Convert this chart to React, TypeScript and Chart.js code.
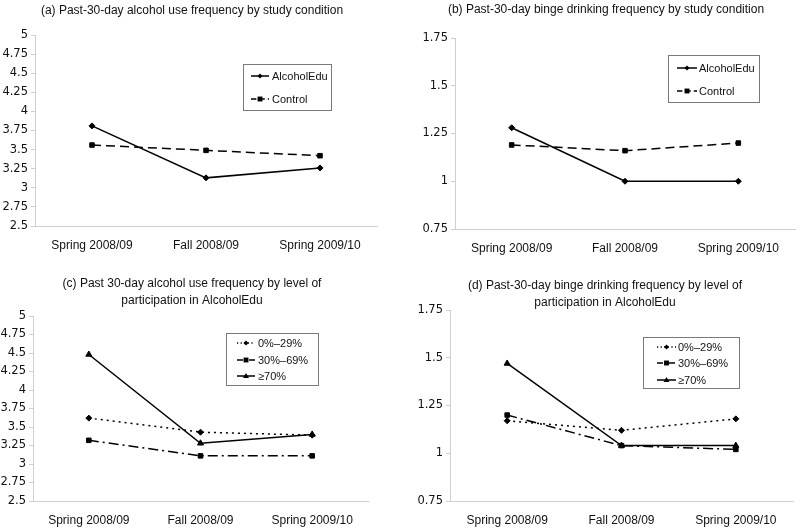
import React, { useEffect, useRef } from "react";
import { Chart, registerables } from "chart.js";

Chart.register(...registerables);

const categories = ["Spring 2008/09", "Fall 2008/09", "Spring 2009/10"];

const titleA = ["(a) Past-30-day alcohol use frequency by study condition"];
const titleB = ["(b) Past-30-day binge drinking frequency by study condition"];
const titleC = ["(c) Past 30-day alcohol use frequency by level of", "participation in AlcoholEdu"];
const titleD = ["(d) Past-30-day binge drinking frequency by level of", "participation in AlcoholEdu"];

const conditionNames = ["AlcoholEdu", "Control"];
const participationNames = ["0%\u201329%", "30%\u201369%", "\u226570%"];

const useAlcoholEdu = [3.81, 3.13, 3.26];
const useControl = [3.56, 3.49, 3.42];
const bingeAlcoholEdu = [1.28, 1.0, 1.0];
const bingeControl = [1.19, 1.16, 1.2];

const useLow = [3.62, 3.43, 3.39];
const useMid = [3.32, 3.11, 3.11];
const useHigh = [4.48, 3.28, 3.4];
const bingeLow = [1.17, 1.12, 1.18];
const bingeMid = [1.2, 1.04, 1.02];
const bingeHigh = [1.47, 1.04, 1.04];

const useAxis = { min: 2.5, max: 5, step: 0.25 };
const bingeAxis = { min: 0.75, max: 1.75, step: 0.25 };

const FONT = "'Liberation Sans', Arial, sans-serif";
const TICK_FONT = "'DejaVu Sans', Verdana, sans-serif";

type Style = { dash: number[]; point: string; radius: number };
const sDiamond: Style = { dash: [], point: "rectRot", radius: 3 };
const sSquareDash: Style = { dash: [9, 5], point: "rect", radius: 3.2 };
const sDotted: Style = { dash: [2, 4], point: "rectRot", radius: 3 };
const sDashDot: Style = { dash: [10, 4, 2, 4], point: "rect", radius: 3.2 };
const sTriangle: Style = { dash: [], point: "triangle", radius: 3.5 };

type Panel = {
  left: number;
  top: number;
  title: string[];
  titleX: number;
  titleY: number;
  area: { l: number; t: number; r: number; b: number };
  axis: { min: number; max: number; step: number };
  series: { name: string; data: number[]; style: Style }[];
  legend: { x: number; y: number; w: number; h: number; rows: number[]; lx0: number; lx1: number; tx: number };
};

const panels: Panel[] = [
  {
    left: 0, top: 0, title: titleA, titleX: 192, titleY: 11,
    area: { l: 35, t: 35, r: 377, b: 226 }, axis: useAxis,
    series: [
      { name: conditionNames[0], data: useAlcoholEdu, style: sDiamond },
      { name: conditionNames[1], data: useControl, style: sSquareDash },
    ],
    legend: { x: 243, y: 64, w: 88, h: 46, rows: [76, 99], lx0: 251, lx1: 269, tx: 272 },
  },
  {
    left: 400, top: 0, title: titleB, titleX: 206, titleY: 10,
    area: { l: 55, t: 38, r: 395, b: 229 }, axis: bingeAxis,
    series: [
      { name: conditionNames[0], data: bingeAlcoholEdu, style: sDiamond },
      { name: conditionNames[1], data: bingeControl, style: sSquareDash },
    ],
    legend: { x: 268, y: 55, w: 91, h: 47, rows: [68, 91], lx0: 277, lx1: 297, tx: 299 },
  },
  {
    left: 0, top: 264, title: titleC, titleX: 192, titleY: 20,
    area: { l: 33, t: 52, r: 368, b: 237 }, axis: useAxis,
    series: [
      { name: participationNames[0], data: useLow, style: sDotted },
      { name: participationNames[1], data: useMid, style: sDashDot },
      { name: participationNames[2], data: useHigh, style: sTriangle },
    ],
    legend: { x: 226, y: 69, w: 92, h: 52, rows: [79, 96, 112], lx0: 237, lx1: 255, tx: 258 },
  },
  {
    left: 400, top: 264, title: titleD, titleX: 205, titleY: 22,
    area: { l: 50, t: 46, r: 393, b: 237 }, axis: bingeAxis,
    series: [
      { name: participationNames[0], data: bingeLow, style: sDotted },
      { name: participationNames[1], data: bingeMid, style: sDashDot },
      { name: participationNames[2], data: bingeHigh, style: sTriangle },
    ],
    legend: { x: 243, y: 73, w: 96, h: 51, rows: [83, 99, 116], lx0: 257, lx1: 276, tx: 278 },
  },
];

const W = 400;
const H = 264;

function drawMarker(ctx: CanvasRenderingContext2D, kind: string, r: number, x: number, y: number) {
  ctx.beginPath();
  if (kind === "rectRot") {
    ctx.moveTo(x, y - r);
    ctx.lineTo(x + r, y);
    ctx.lineTo(x, y + r);
    ctx.lineTo(x - r, y);
  } else if (kind === "rect") {
    ctx.rect(x - r * 0.9, y - r * 0.9, r * 1.8, r * 1.8);
  } else {
    ctx.moveTo(x, y - r);
    ctx.lineTo(x + r, y + r * 0.7);
    ctx.lineTo(x - r, y + r * 0.7);
  }
  ctx.closePath();
  ctx.fill();
}

function PanelChart({ p }: { p: Panel }) {
  const ref = useRef<HTMLCanvasElement | null>(null);
  useEffect(() => {
    if (!ref.current) return;
    const overlay = {
      id: "overlay",
      afterDraw(chart: any) {
        const ctx = chart.ctx as CanvasRenderingContext2D;
        ctx.save();
        ctx.fillStyle = "#111";
        ctx.font = `12px ${FONT}`;
        ctx.textAlign = "center";
        ctx.textBaseline = "middle";
        p.title.forEach((line, i) => ctx.fillText(line, p.titleX, p.titleY + i * 17));
        const lg = p.legend;
        ctx.strokeStyle = "#7a7a7a";
        ctx.lineWidth = 1;
        ctx.strokeRect(lg.x + 0.5, lg.y + 0.5, lg.w, lg.h);
        p.series.forEach((s, i) => {
          const y = lg.rows[i];
          ctx.strokeStyle = "#000";
          ctx.lineWidth = 1.5;
          ctx.setLineDash(s.style.dash.length ? s.style.dash.map((d) => d * 0.6) : []);
          ctx.beginPath();
          ctx.moveTo(lg.lx0, y);
          ctx.lineTo(lg.lx1, y);
          ctx.stroke();
          ctx.setLineDash([]);
          ctx.fillStyle = "#000";
          drawMarker(ctx, s.style.point, s.style.radius * 0.85, (lg.lx0 + lg.lx1) / 2, y);
          ctx.fillStyle = "#111";
          ctx.font = `11px ${FONT}`;
          ctx.textAlign = "left";
          ctx.textBaseline = "middle";
          ctx.fillText(s.name, lg.tx, y + 0.5);
        });
        ctx.restore();
      },
    };
    const chart = new Chart(ref.current, {
      type: "line",
      data: {
        labels: categories,
        datasets: p.series.map((s) => ({
          label: s.name,
          data: s.data,
          borderColor: "#000",
          backgroundColor: "#000",
          borderWidth: 1.5,
          borderDash: s.style.dash,
          pointStyle: s.style.point as any,
          pointRadius: s.style.radius,
          pointBorderWidth: 1,
          pointBackgroundColor: "#000",
          pointBorderColor: "#000",
          tension: 0,
        })),
      },
      options: {
        responsive: false,
        animation: false,
        devicePixelRatio: 1,
        layout: { padding: { top: p.area.t, left: 0, right: W - p.area.r, bottom: 0 } },
        plugins: { legend: { display: false }, title: { display: false }, tooltip: { enabled: false } },
        scales: {
          x: {
            type: "category",
            offset: true,
            grid: { display: false, drawTicks: false },
            border: { display: true, color: "#cfcfcf", width: 1 },
            ticks: { color: "#111", font: { family: FONT, size: 12 }, padding: 12, maxRotation: 0, autoSkip: false },
            afterFit(scale: any) {
              scale.height = H - p.area.b;
            },
          },
          y: {
            type: "linear",
            min: p.axis.min,
            max: p.axis.max,
            grid: { display: true, drawOnChartArea: false, drawTicks: true, tickLength: 4, color: "#cfcfcf" },
            border: { display: true, color: "#cfcfcf", width: 1 },
            ticks: {
              stepSize: p.axis.step,
              autoSkip: false,
              maxTicksLimit: 20,
              color: "#111",
              font: { family: TICK_FONT, size: 11.5 },
              padding: 3,
              callback: (v: any) => String(Number(v)),
            },
            afterFit(scale: any) {
              scale.width = p.area.l;
            },
          },
        },
      },
      plugins: [overlay],
    } as any);
    return () => chart.destroy();
  }, [p]);
  return (
    <canvas
      ref={ref}
      width={W}
      height={H}
      style={{ position: "absolute", left: p.left, top: p.top, width: W, height: H }}
    />
  );
}

export default function App() {
  return (
    <div style={{ position: "fixed", left: 0, top: 0, width: 800, height: 528, background: "#fff" }}>
      {panels.map((p, i) => (
        <PanelChart key={i} p={p} />
      ))}
    </div>
  );
}
